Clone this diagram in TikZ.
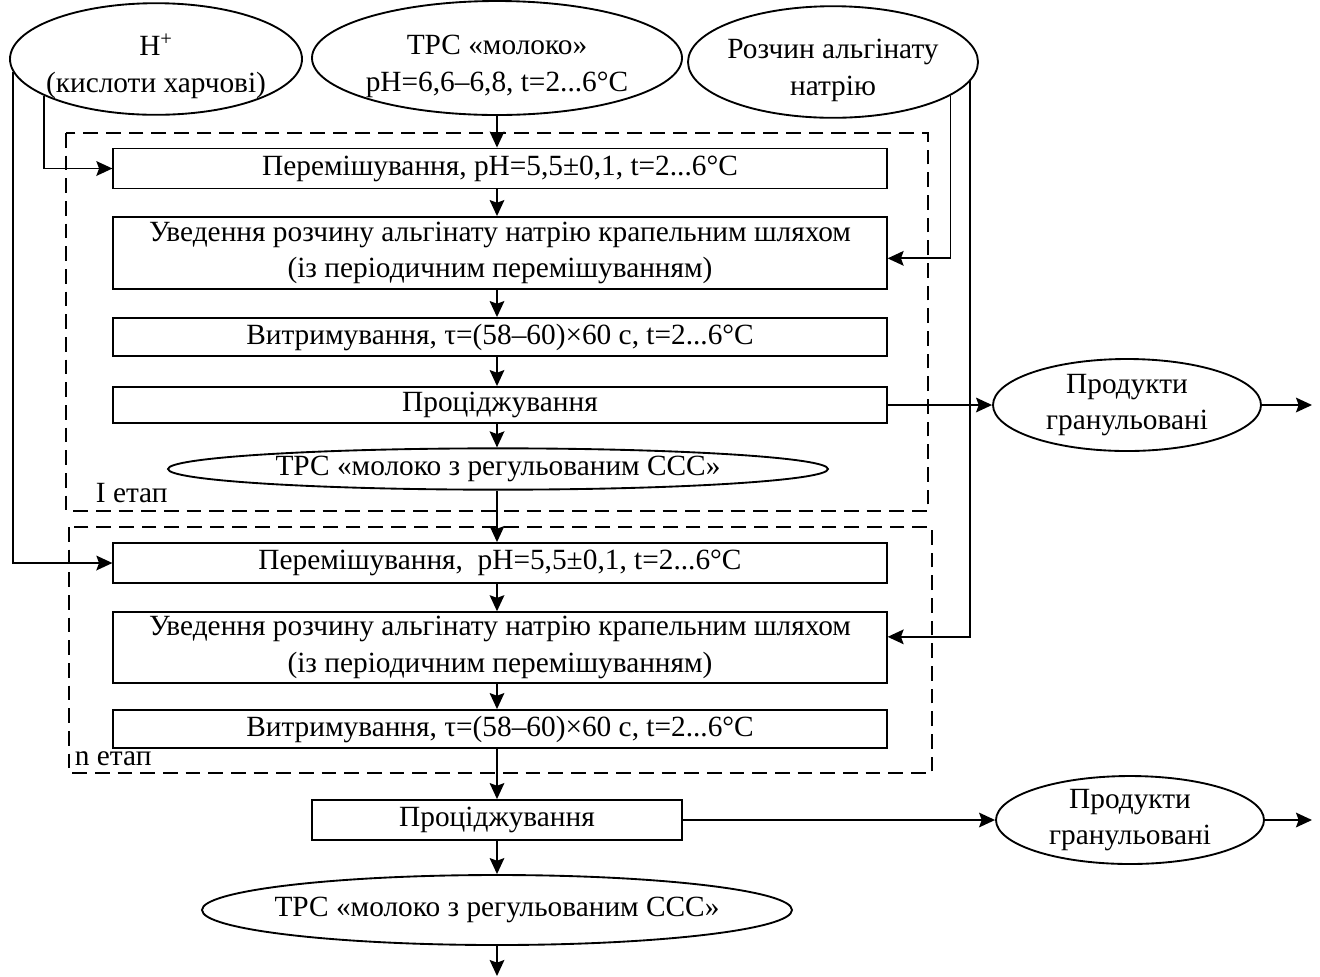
\documentclass[tikz,border=0pt]{standalone}
\usepackage{fontspec}
\setmainfont{Liberation Serif}
\usetikzlibrary{shapes.geometric,arrows.meta}
\newcommand{\zw}[1]{\makebox[0pt]{#1}}
\newcommand{\tallstrut}{\rule{0pt}{27pt}}
\begin{document}
\begin{tikzpicture}[x=0.75pt,y=-0.75pt,
  font=\fontsize{22pt}{27.5pt}\selectfont,
  line width=1.4pt,
  arr/.style={-{Stealth[length=12pt,width=11pt,inset=2pt]}, line width=1.4pt},
  pbox/.style={draw, rectangle, inner sep=0pt, align=center, line width=1.4pt},
  oval/.style={draw, ellipse, inner sep=0pt, align=center, line width=1.4pt},
  stage/.style={dash pattern=on 11pt off 6pt, line width=1.4pt}]
\useasboundingbox (0,0) rectangle (1320,976);
\coordinate (ax) at (497,0);
% top inputs
\node[oval, minimum width=219pt, minimum height=82.5pt] (e1) at (156,59)
  {\zw{\tallstrut H\textsuperscript{+}}\\ \zw{(кислоти харчові)}};
\node[oval, minimum width=277.5pt, minimum height=85.5pt] (e2) at (497,58)
  {\zw{\tallstrut ТРС «молоко»}\\ \zw{pH=6,6–6,8, t=2...6°C}};
\node[oval, minimum width=217.5pt, minimum height=82.5pt] (e3) at (833,62)
  {\zw{\tallstrut Розчин альгінату}\\ \zw{натрію}};
% stage boxes
\draw[stage] (66,133) rectangle (928,511);
\draw[stage] (69,527) rectangle (932,773);
\node[anchor=west, inner sep=0pt] (l1) at (95,493) {I етап};
\node[anchor=west, inner sep=0pt] (l2) at (74,759) {n етап};
% stage I
\node[pbox, minimum width=580pt, minimum height=30pt] (b1) at (500,168.5)
  {Перемішування, pH=5,5±0,1, t=2...6°C};
\node[pbox, minimum width=580pt, minimum height=54pt] (b2) at (500,253)
  {Уведення розчину альгінату натрію крапельним шляхом\\(із періодичним перемішуванням)};
\node[pbox, minimum width=580pt, minimum height=28.5pt] (b3) at (500,337)
  {Витримування, τ=(58–60)×60 с, t=2...6°C};
\node[pbox, minimum width=580pt, minimum height=27pt] (b4) at (500,405)
  {Проціджування};
\node[oval, minimum width=495pt, minimum height=31pt] (e4) at (498,469)
  {\zw{ТРС «молоко з регульованим ССС»}};
% stage n
\node[pbox, minimum width=580pt, minimum height=30pt] (b5) at (500,563)
  {Перемішування,\ \ pH=5,5±0,1, t=2...6°C};
\node[pbox, minimum width=580pt, minimum height=53pt] (b6) at (500,647.5)
  {Уведення розчину альгінату натрію крапельним шляхом\\(із періодичним перемішуванням)};
\node[pbox, minimum width=580pt, minimum height=28.5pt] (b7) at (500,729)
  {Витримування, τ=(58–60)×60 с, t=2...6°C};
% final
\node[pbox, minimum width=277.5pt, minimum height=30pt] (b8) at (497,820)
  {Проціджування};
\node[oval, minimum width=442.5pt, minimum height=52.5pt] (e5) at (497,910)
  {\zw{ТРС «молоко з регульованим ССС»}};
% products
\node[oval, minimum width=201pt, minimum height=69pt] (p1) at (1127,405)
  {\zw{Продукти}\\ \zw{гранульовані}};
\node[oval, minimum width=201pt, minimum height=60pt] (p2) at (1130,820)
  {\zw{Продукти}\\ \zw{гранульовані}};
\coordinate (o1) at (1312,405);
\coordinate (o2) at (1312,820);
\coordinate (o3) at (497,976);
% main flow
\draw[arr] (e2.south) -- (b1.north -| ax);
\draw[arr] (b1.south -| ax) -- (b2.north -| ax);
\draw[arr] (b2.south -| ax) -- (b3.north -| ax);
\draw[arr] (b3.south -| ax) -- (b4.north -| ax);
\draw[arr] (b4.south -| ax) -- (e4.north -| ax);
\draw[arr] (e4.south -| ax) -- (b5.north -| ax);
\draw[arr] (b5.south -| ax) -- (b6.north -| ax);
\draw[arr] (b6.south -| ax) -- (b7.north -| ax);
\draw[arr] (b7.south -| ax) -- (b8.north);
\draw[arr] (b8.south) -- (e5.north);
\draw[arr] (e5.south) -- (o3);
% side feeds
\draw[arr] (e1.198) |- (b1.west);
\draw[arr] (e1.185) |- (b5.west);
\draw[arr] (e3.-16) |- ([yshift=-4pt]b2.east);
\draw[arr] (e3.-8) |- ([yshift=8pt]b6.east);
% products
\draw[arr] (b4.east) -- (p1.west);
\draw[arr] (p1.east) -- (o1);
\draw[arr] (b8.east) -- (p2.west);
\draw[arr] (p2.east) -- (o2);
\end{tikzpicture}
\end{document}
